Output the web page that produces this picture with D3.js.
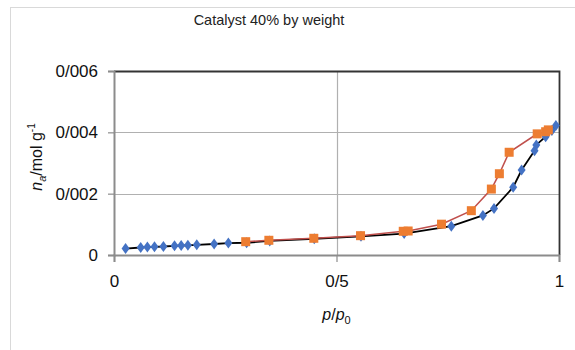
<!DOCTYPE html>
<html>
<head>
<meta charset="utf-8">
<script src="https://cdn.jsdelivr.net/npm/d3@7"></script>
<style>
  html, body { margin: 0; padding: 0; background: #fff; }
  svg { display: block; font-family: "Liberation Sans", Arial, sans-serif; }
</style>
</head>
<body>
<svg id="chart" width="575" height="350"></svg>
<script>
// Adsorption branch (relative pressure, amount adsorbed in mol/g)
const adsP = [0.026, 0.060, 0.075, 0.091, 0.111, 0.136, 0.151, 0.166, 0.186, 0.225, 0.257,
              0.298, 0.350, 0.450, 0.555, 0.652, 0.758, 0.829, 0.854, 0.897, 0.916,
              0.945, 0.949, 0.970, 0.984, 0.993];
const adsN = [0.000209, 0.000245, 0.000258, 0.000268, 0.000277, 0.000300, 0.000310, 0.000316,
              0.000333, 0.000359, 0.000388, 0.000400, 0.000460, 0.000530, 0.000610, 0.000700,
              0.000940, 0.001290, 0.001520, 0.002210, 0.002770, 0.003400, 0.003590, 0.003860,
              0.004060, 0.004220];

// Desorption branch
const desP = [0.296, 0.348, 0.449, 0.554, 0.650, 0.661, 0.736, 0.803, 0.848, 0.866, 0.888,
              0.951, 0.970, 0.976];
const desN = [0.000434, 0.000480, 0.000545, 0.000630, 0.000773, 0.000783, 0.001005, 0.001445,
              0.002150, 0.002650, 0.003350, 0.003950, 0.004020, 0.004080];

const xTicks = [0, 0.5, 1];
const xTickLabels = ["0", "0/5", "1"];
const yTicks = [0, 0.002, 0.004, 0.006];
const yTickLabels = ["0", "0/002", "0/004", "0/006"];

const title = "Catalyst 40% by weight";

const svg = d3.select("#chart");
const plot = { left: 114, right: 559, top: 71, bottom: 255 };

const x = d3.scaleLinear().domain([0, 1]).range([plot.left, plot.right]);
const y = d3.scaleLinear().domain([0, 0.006]).range([plot.bottom, plot.top]);

// outer chart frame
svg.append("rect")
  .attr("x", 10.5).attr("y", 7.5).attr("width", 700).attr("height", 500)
  .attr("fill", "none").attr("stroke", "#d9d9d9").attr("stroke-width", 1);

// title
svg.append("text")
  .attr("x", 269).attr("y", 25)
  .attr("text-anchor", "middle")
  .attr("font-size", 14.5).attr("fill", "#222")
  .text(title);

// gridlines
const grid = svg.append("g");
grid.selectAll("line.h").data(yTicks.slice(1)).join("line")
  .attr("x1", plot.left).attr("x2", plot.right)
  .attr("y1", d => Math.round(y(d)) + 0.5).attr("y2", d => Math.round(y(d)) + 0.5)
  .attr("stroke", "#b0b0b0").attr("stroke-width", 1.2);
grid.selectAll("line.v").data([0.5]).join("line")
  .attr("y1", plot.top).attr("y2", plot.bottom)
  .attr("x1", d => Math.round(x(d)) + 0.5).attr("x2", d => Math.round(x(d)) + 0.5)
  .attr("stroke", "#b0b0b0").attr("stroke-width", 1.2);

// dark top and right border of the plot area
svg.append("path")
  .attr("d", `M${plot.left},${plot.top + 0.5}H${plot.right + 0.5}V${plot.bottom}`)
  .attr("fill", "none").attr("stroke", "#333").attr("stroke-width", 1.8);

// axes
const yAxis = d3.axisLeft(y).tickValues(yTicks)
  .tickFormat((d, i) => yTickLabels[i]).tickSize(6).tickPadding(10);
const xAxis = d3.axisBottom(x).tickValues(xTicks)
  .tickFormat((d, i) => xTickLabels[i]).tickSize(7).tickPadding(13);

const gy = svg.append("g").attr("transform", `translate(${plot.left},0)`).call(yAxis);
const gx = svg.append("g").attr("transform", `translate(0,${plot.bottom})`).call(xAxis);
[gx, gy].forEach(g => {
  g.select(".domain").attr("stroke", "#8c8c8c").attr("stroke-width", 2);
  g.selectAll(".tick line").attr("stroke", "#8c8c8c").attr("stroke-width", 1.2);
  g.selectAll(".tick text").attr("font-size", 17).attr("fill", "#111")
    .attr("font-family", "\"Liberation Sans\", Arial, sans-serif");
});

// axis titles
const xt = svg.append("text")
  .attr("x", x(0.5)).attr("y", 320)
  .attr("text-anchor", "middle").attr("font-size", 16).attr("fill", "#111");
xt.append("tspan").attr("font-style", "italic").text("p");
xt.append("tspan").text("/");
xt.append("tspan").attr("font-style", "italic").text("p");
xt.append("tspan").attr("font-size", 11).attr("dy", 4).text("0");

const yt = svg.append("text")
  .attr("transform", `translate(42,${(plot.top + plot.bottom) / 2 - 6}) rotate(-90)`)
  .attr("text-anchor", "middle").attr("font-size", 16).attr("fill", "#111");
yt.append("tspan").attr("font-style", "italic").text("n");
yt.append("tspan").attr("font-style", "italic").attr("font-size", 11).attr("dy", 4).text("a");
yt.append("tspan").attr("dy", -4).text("/mol g");
yt.append("tspan").attr("font-size", 10).attr("dy", -7).text("-1");

// series
const ads = adsP.map((p, i) => [p, adsN[i]]);
const des = desP.map((p, i) => [p, desN[i]]);
const line = d3.line().x(d => x(d[0])).y(d => y(d[1]));

svg.append("path").datum(ads)
  .attr("d", line).attr("fill", "none")
  .attr("stroke", "#000").attr("stroke-width", 1.8);
svg.append("g").selectAll("path").data(ads).join("path")
  .attr("transform", d => `translate(${x(d[0])},${y(d[1])})`)
  .attr("d", "M0,-5.5L4,0L0,5.5L-4,0Z")
  .attr("fill", "#4472C4");

svg.append("path").datum(des)
  .attr("d", line).attr("fill", "none")
  .attr("stroke", "#C0504D").attr("stroke-width", 1.6);
svg.append("g").selectAll("rect").data(des).join("rect")
  .attr("x", d => x(d[0]) - 4.5).attr("y", d => y(d[1]) - 4.5)
  .attr("width", 9).attr("height", 9)
  .attr("fill", "#ED7D31");
</script>
</body>
</html>
